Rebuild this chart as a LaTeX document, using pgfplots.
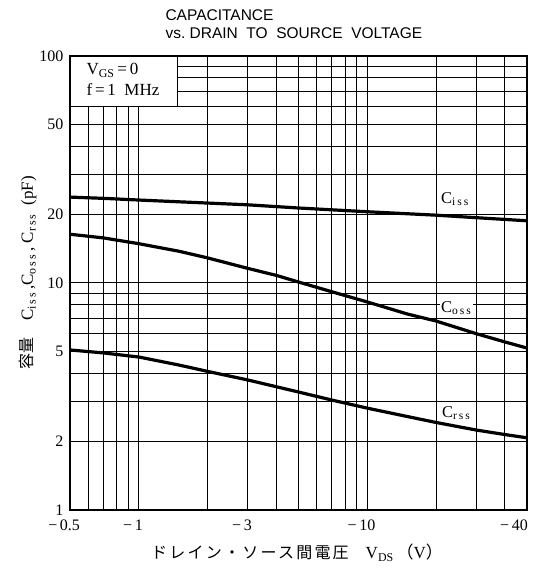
\documentclass[border=0pt]{standalone}
\usepackage{fontspec}
\setmainfont{Liberation Serif}
\newfontfamily\cjk{Noto Sans CJK JP}
\newfontfamily\cjkx[LetterSpace=14]{Noto Sans CJK JP}
\newfontfamily\hel{Liberation Sans}
\usepackage{pgfplots}
\pgfplotsset{compat=1.18}
\usetikzlibrary{calc}

\pgfplotstableread{
x y
0.5 23.9
0.7 23.6
1 23.2
2 22.5
3 22.1
5 21.4
10 20.6
20 19.9
30 19.4
50 18.8
}\ciss
\pgfplotstableread{
x y
0.5 16.4
0.7 15.8
1 14.9
1.5 13.8
2 12.9
3 11.6
4 10.8
5 10.1
7 9.15
10 8.25
15 7.3
20 6.8
30 5.98
40 5.5
50 5.17
}\coss
\pgfplotstableread{
x y
0.5 5.07
0.7 4.92
1 4.72
1.5 4.35
2 4.08
3 3.74
5 3.31
7 3.05
10 2.81
15 2.58
20 2.43
30 2.25
40 2.15
50 2.08
}\crss

\begin{document}
\begin{tikzpicture}
\begin{axis}[
  name=ax,
  scale only axis, width=457pt, height=454pt,
  xmode=log, ymode=log,
  xmin=0.5, xmax=50, ymin=1, ymax=100,
  axis line style={line width=2pt},
  /pgf/number format/assume math mode=true,
  xtick={0.5,1,3,10,46.5},
  xticklabels={\llap{−\,}0.5,\llap{−\,}1,\llap{−\,}3,\llap{−\,}10,\llap{−\,}40},
  ytick={1,2,5,10,20,50,100},
  yticklabels={1,2,5,10,20,50,100},
  minor xtick={0.6,0.7,0.8,0.9,1,2,3,4,5,6,7,8,9,10,20,30,40},
  minor ytick={2,3,4,5,6,7,8,9,10,20,30,40,50,60,70,80,90},
  xminorgrids, yminorgrids,
  minor grid style={black, line width=1pt},
  major tick length=0pt, minor tick length=0pt,
  ticklabel style={font=\fontsize{16}{18}\selectfont},
  xticklabel style={yshift=-6pt},
  yticklabel style={xshift=-3pt},
  clip=false,
]
\addplot[black, line width=3.2pt] table {\ciss};
\addplot[black, line width=3.2pt] table {\coss};
\addplot[black, line width=3.2pt] table {\crss};
\fill[white] (axis cs:0.5,60) rectangle (axis cs:1.48,100);
\draw[line width=1.4pt] (axis cs:0.5,60) rectangle (axis cs:1.48,100);
\node[fill=white, inner sep=1.5pt, font=\fontsize{16.5}{18}\selectfont] at (axis cs:24.2,23.4) {C\textsubscript{i\,s\,s}};
\node[fill=white, inner sep=1.5pt, font=\fontsize{16.5}{18}\selectfont] at (axis cs:24.5,7.76) {C\textsubscript{o\,s\,s}};
\node[fill=white, inner sep=1.5pt, font=\fontsize{16.5}{18}\selectfont] at (axis cs:24.5,2.67) {C\textsubscript{r\,s\,s}};
\end{axis}
\begin{scope}[shift={(ax.south west)}]
  \node[anchor=base west, font=\fontsize{17}{19}\selectfont] at (13pt,435pt) {V\textsubscript{GS}\,=\,0};
  \node[anchor=base west, font=\fontsize{17}{19}\selectfont] at (13pt,414pt) {f\,=\,1\ \ MHz};
  \node[anchor=base west, font=\hel\fontsize{15.5}{17}\selectfont] at (92pt,489pt) {CAPACITANCE};
  \node[anchor=base west, font=\hel\fontsize{15.5}{17}\selectfont] at (92pt,471pt) {vs.\ DRAIN\ \ TO\ \ SOURCE\ \ VOLTAGE};
  \node[font=\fontsize{17}{19}\selectfont] at (227pt,-43pt) {{\cjkx\fontsize{16}{18}\selectfont ドレイン・ソース間電圧}\quad V\textsubscript{DS}\,{\cjk （}V{\cjk ）}};
  \node[rotate=90, font=\fontsize{17}{19}\selectfont] at (-42pt,237pt) {{\cjk\fontsize{16}{18}\selectfont 容量}\quad C\textsubscript{i\,s\,s}\,,C\textsubscript{o\,s\,s}\,,\ C\textsubscript{r\,s\,s}\ \ (pF)};
\end{scope}
\pgfresetboundingbox
\path ($(ax.south west)+(-70pt,-61pt)$) rectangle ($(ax.south west)+(464pt,510pt)$);
\end{tikzpicture}
\end{document}
